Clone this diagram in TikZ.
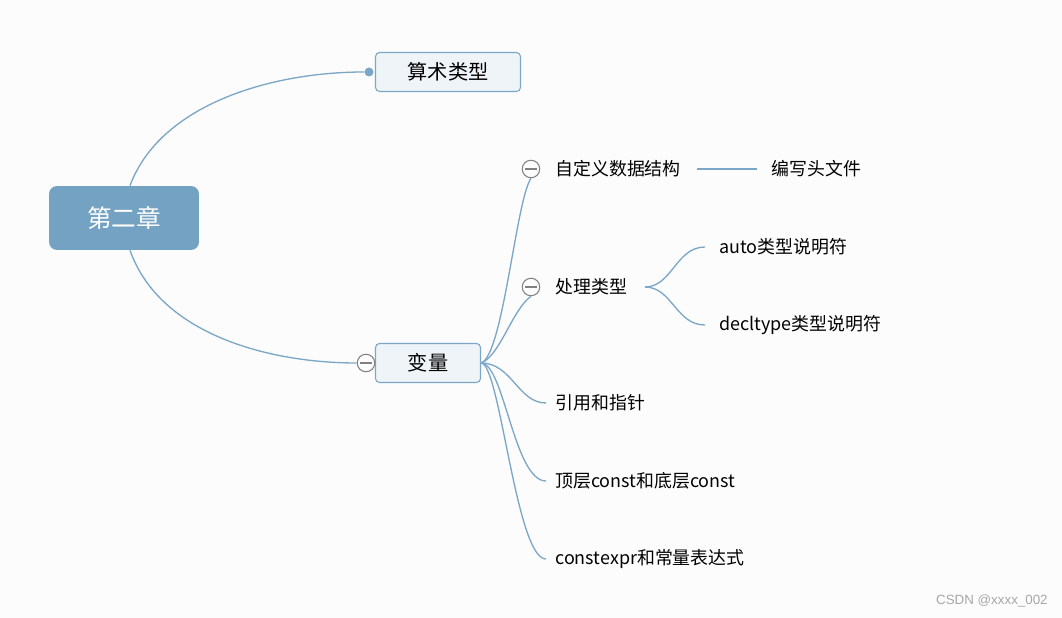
\documentclass[tikz,border=0pt]{standalone}
\usepackage{fontspec}
\setmainfont{Noto Sans CJK SC}
\newfontfamily\markfont{Liberation Sans}
\usetikzlibrary{positioning}
\definecolor{bg}{HTML}{FCFCFC}
\definecolor{branch}{HTML}{7BA6C6}
\definecolor{rootfill}{HTML}{74A2C3}
\definecolor{topicfill}{HTML}{EFF4F8}
\definecolor{knob}{HTML}{808080}
\tikzset{
  root/.style={rectangle,rounded corners=0.16cm,fill=rootfill,text=white,
    minimum width=3cm,minimum height=1.28cm,font=\fontsize{14}{16}\selectfont},
  topic/.style={rectangle,rounded corners=0.08cm,draw=branch,fill=topicfill,line width=0.6pt,
    minimum height=0.78cm,font=\fontsize{11.5}{14}\selectfont},
  leaf/.style={anchor=west,inner xsep=0.18cm,font=\fontsize{10.2}{12}\selectfont},
  subleaf/.style={anchor=west,inner xsep=0.28cm,font=\fontsize{10.2}{12}\selectfont},
  knobs/.style={circle,draw=knob,fill=bg,line width=0.6pt,minimum size=0.35cm,inner sep=0pt,
    path picture={\draw[knob,line width=0.7pt] ([xshift=-0.12cm]path picture bounding box.center) -- ([xshift=0.12cm]path picture bounding box.center);}},
  link/.style={draw=branch,line width=0.75pt}
}
\begin{document}
\begin{tikzpicture}[x=0.02cm,y=-0.02cm]
\fill[bg] (0,0) rectangle (1062,618);
\useasboundingbox (0,0) rectangle (1062,618);
\path (124,218) node[root] (ch) {第二章}
(448,72) node[topic,minimum width=2.9cm] (arith) {算术类型}
(428,363) node[topic,minimum width=2.1cm] (var) {变量};
% knobs and dot
\node[circle,fill=branch,inner sep=0pt,minimum size=0.18cm] (dot) at (369,72) {};
\node[knobs] (kvar) at (366,363) {};
\node[knobs] (k1) at (531,169) {};
\node[knobs] (k2) at (531,287) {};
% leaves
\node[leaf] (t1) at (546,169) {自定义数据结构};
\node[subleaf] (t1a) at (757,169) {编写头文件};
\node[leaf] (t2) at (546,287) {处理类型};
\coordinate (fork) at (645,287);
\node[subleaf] (t2a) at (705,247) {auto类型说明符};
\node[subleaf] (t2b) at (705,325) {decltype类型说明符};
\node[leaf] (t3) at (546,403) {引用和指针};
\node[leaf] (t4) at (546,481) {顶层const和底层const};
\node[leaf] (t5) at (546,559) {constexpr和常量表达式};
% connectors
\draw[link] ([xshift=0.12cm]ch.north) .. controls (160,105) and (270,72) .. (dot);
\draw[link] ([xshift=0.12cm]ch.south) .. controls (160,335) and (270,363) .. (kvar.west);
\draw[link] (var.east) .. controls (503,356) and (516,200) .. (k1.south);
\draw[link] (var.east) .. controls (500,356) and (512,310) .. (k2.south);
\draw[link] (var.east) .. controls (512,363) and (518,403) .. (t3.west);
\draw[link] (var.east) .. controls (504,363) and (514,481) .. (t4.west);
\draw[link] (var.east) .. controls (500,363) and (516,559) .. (t5.west);
\draw[link] (697,169) -- (t1a.west);
\draw[link] (fork) .. controls (672,287) and (676,247) .. (t2a.west);
\draw[link] (fork) .. controls (672,287) and (676,325) .. (t2b.west);
\node[anchor=east,inner sep=0pt,text=knob!70,font=\markfont\fontsize{7.6}{9}\selectfont] (mark) at (1048,601) {CSDN @xxxx\_002};
\end{tikzpicture}
\end{document}
